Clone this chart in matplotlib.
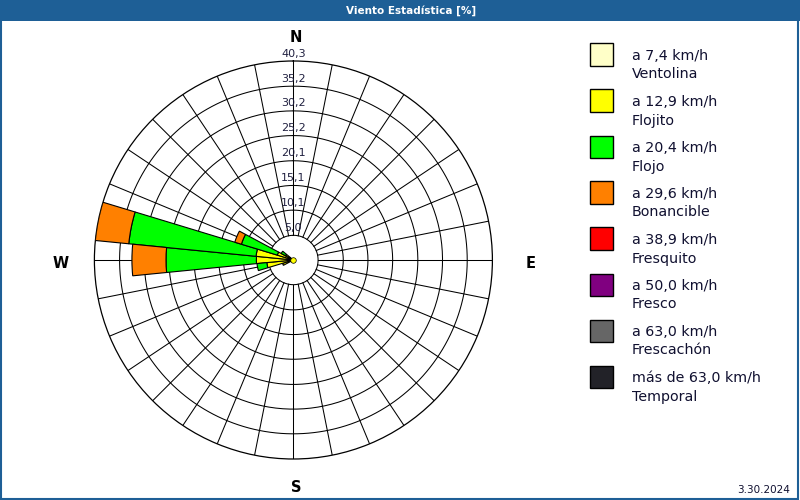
import numpy as np
import matplotlib.pyplot as plt
from matplotlib.patches import Rectangle

# 32 compass points, clockwise from north
compass = ["N", "NbE", "NNE", "NEbN", "NE", "NEbE", "ENE", "EbN",
           "E", "EbS", "ESE", "SEbE", "SE", "SEbS", "SSE", "SbE",
           "S", "SbW", "SSW", "SWbS", "SW", "SWbW", "WSW", "WbS",
           "W", "WbN", "WNW", "NWbW", "NW", "NWbN", "NNW", "NbW"]

# directions that carry wind, and the share (%) per speed class
sector_dirs = ["WSW", "WbS", "W", "WbN", "WNW", "NWbW"]
ventolina  = [0.3, 0.4, 0.6, 0.6, 0.4, 0.3]
flojito    = [2.0, 5.0, 6.9, 7.0, 3.0, 1.5]
flojo      = [0.0, 2.0, 18.3, 25.9, 7.6, 1.0]
bonancible = [0.0, 0.0, 6.9, 6.8, 1.4, 0.0]
fresquito  = [0.0, 0.0, 0.0, 0.0, 0.0, 0.0]
fresco     = [0.0, 0.0, 0.0, 0.0, 0.0, 0.0]
frescachon = [0.0, 0.0, 0.0, 0.0, 0.0, 0.0]
temporal   = [0.0, 0.0, 0.0, 0.0, 0.0, 0.0]

speed_labels = ["a 7,4 km/h", "a 12,9 km/h", "a 20,4 km/h", "a 29,6 km/h",
                "a 38,9 km/h", "a 50,0 km/h", "a 63,0 km/h", "más de 63,0 km/h"]
class_names = ["Ventolina", "Flojito", "Flojo", "Bonancible",
               "Fresquito", "Fresco", "Frescachón", "Temporal"]
colors = ["#FFFFC8", "#FFFF00", "#00FF00", "#FF8000",
          "#FF0000", "#800080", "#666666", "#222228"]

ring_values = [5.0, 10.1, 15.1, 20.1, 25.2, 30.2, 35.2, 40.3]
ring_labels = ["5,0", "10,1", "15,1", "20,1", "25,2", "30,2", "35,2", "40,3"]

series = [ventolina, flojito, flojo, bonancible, fresquito, fresco, frescachon, temporal]
rmax = ring_values[-1]
step = 2 * np.pi / len(compass)

fig = plt.figure(figsize=(8, 5), dpi=100)
fig.patch.set_facecolor("white")

# title bar + frame
blue = "#1E5F96"
fig.patches.append(Rectangle((0, 1 - 21 / 500), 1, 21 / 500, transform=fig.transFigure,
                             facecolor=blue, edgecolor="none", zorder=0))
fig.patches.append(Rectangle((0.001, 0.002), 0.997, 0.99, transform=fig.transFigure,
                             facecolor="none", edgecolor=blue, lw=1.5, zorder=0))
fig.text(411 / 800, 1 - 10.5 / 500, "Viento Estadística [%]", color="white",
         fontsize=7.5, fontweight="bold", ha="center", va="center")

ax = fig.add_axes([0.118, 0.082, 0.4975, 0.796], projection="polar")
ax.set_theta_zero_location("N")
ax.set_theta_direction(-1)
ax.set_ylim(0, rmax)
ax.set_xticks([])
ax.set_yticks([])
ax.grid(False)
ax.spines["polar"].set_linewidth(0.9)
ax.spines["polar"].set_color("black")

# grid: circles and radial lines outside the first ring
circ = np.linspace(0, 2 * np.pi, 400)
for r in ring_values[:-1]:
    ax.plot(circ, np.full_like(circ, r), color="black", lw=0.75, zorder=1)
for i in range(len(compass)):
    th = i * step
    ax.plot([th, th], [ring_values[0], rmax], color="black", lw=0.75, zorder=1)

for r, lab in zip(ring_values, ring_labels):
    ax.text(0, r + 0.5, lab, ha="center", va="bottom", fontsize=8,
            color="#202040", zorder=2)

# stacked wedges
theta = np.array([compass.index(d) * step for d in sector_dirs])
bottom = np.zeros(len(sector_dirs))
for vals, col in zip(series, colors):
    vals = np.array(vals)
    mask = vals > 0
    if mask.any():
        ax.bar(theta[mask], vals[mask], width=step, bottom=bottom[mask], color=col,
               edgecolor="black", linewidth=0.8, zorder=3)
    bottom += vals
ax.plot([0], [0], marker="o", ms=4, color="#FFFF00", mec="black", mew=0.5, zorder=4)

# compass letters
for lab, x, y in [("N", 296, 37), ("E", 531, 264), ("S", 296, 488), ("W", 61, 264)]:
    fig.text(x / 800, 1 - y / 500, lab, fontsize=10.5, fontweight="bold",
             ha="center", va="center", color="black")

# legend
for k, (sl, cn, col) in enumerate(zip(speed_labels, class_names, colors)):
    y0 = 43.5 + k * 46
    fig.patches.append(Rectangle((590 / 800, 1 - (y0 + 22.5) / 500), 23 / 800, 22.5 / 500,
                                 transform=fig.transFigure, facecolor=col,
                                 edgecolor="black", lw=1.0))
    fig.text(632 / 800, 1 - (y0 + 13) / 500, sl, fontsize=10.3, ha="left", va="center",
             color="#101030")
    fig.text(632 / 800, 1 - (y0 + 31) / 500, cn, fontsize=10.3, ha="left", va="center",
             color="#101030")

fig.text(790 / 800, 1 - 490 / 500, "3.30.2024", fontsize=7.5, ha="right", va="center",
         color="#101030")

fig.savefig("out.png", dpi=100)
